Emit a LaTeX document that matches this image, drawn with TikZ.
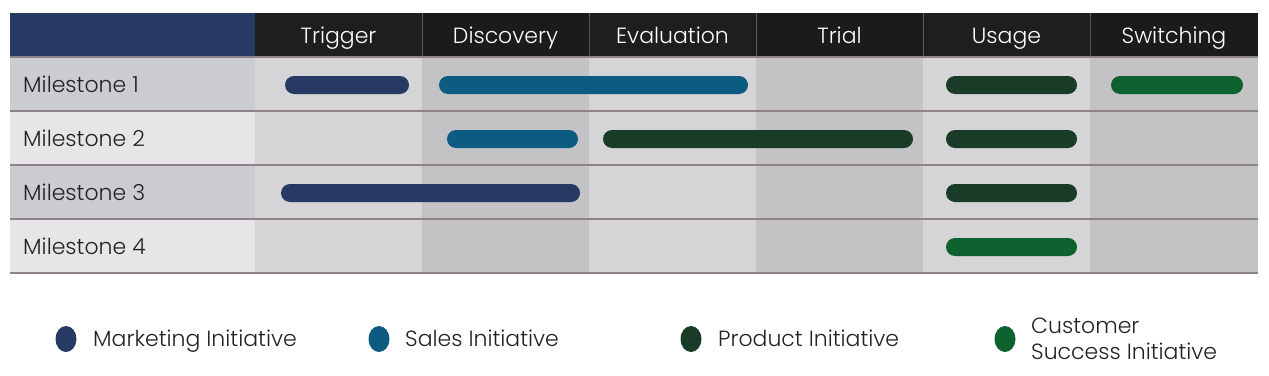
\documentclass[tikz,border=0pt]{standalone}
\usepackage{fontspec}
\setmainfont{Poppins Light}
\usetikzlibrary{shapes.geometric}
\definecolor{hdrnavy}{HTML}{263A63}
\definecolor{hdrA}{HTML}{201E1D}
\definecolor{hdrB}{HTML}{1C1A1A}
\definecolor{lblA}{HTML}{CBCCD0}
\definecolor{lblB}{HTML}{E6E6E8}
\definecolor{colL}{HTML}{D5D5D7}
\definecolor{colD}{HTML}{C3C3C5}
\definecolor{sepc}{HTML}{8F8289}
\definecolor{mkt}{HTML}{263A64}
\definecolor{sal}{HTML}{0B5C80}
\definecolor{prd}{HTML}{1A3B27}
\definecolor{cus}{HTML}{0D622F}
\definecolor{txt}{HTML}{222222}
\begin{document}
\begin{tikzpicture}[x=1pt,y=-1pt,
  cell/.style={anchor=north west, inner sep=0, outer sep=0, minimum width=167pt, minimum height=54pt},
  hcell/.style={cell, minimum height=44pt},
  htxt/.style={anchor=base, inner sep=0, text=white, font=\fontsize{22}{26}\selectfont},
  lcell/.style={anchor=north west, inner sep=0, outer sep=0, minimum width=245pt, minimum height=54pt},
  lbl/.style={anchor=base west, inner sep=0, text=txt, font=\fontsize{22}{26}\selectfont},
  bar/.style={anchor=west, inner sep=0, outer sep=0, minimum height=18pt, rounded corners=9pt},
  dot/.style={ellipse, inner sep=0, minimum width=21pt, minimum height=26pt},
  leg/.style={anchor=base west, inner sep=0, text=txt, align=left, font=\fontsize{22}{26}\selectfont},
  sepline/.style={draw=sepc, line width=1.5pt}
]
\useasboundingbox (0,0) rectangle (1269,375);
% header
\node[lcell, minimum height=44pt, fill=hdrnavy] (h0) at (10,13) {};
\node[hcell, fill=hdrA] (h1) at (255,13) {};
\node[hcell, fill=hdrB] (h2) at (422,13) {};
\node[hcell, fill=hdrA] (h3) at (589,13) {};
\node[hcell, fill=hdrB] (h4) at (756,13) {};
\node[hcell, fill=hdrA] (h5) at (923,13) {};
\node[hcell, fill=hdrB, minimum width=168pt] (h6) at (1090,13) {};
\node[htxt] (ht1) at (338.5,43) {Trigger};
\node[htxt] (ht2) at (505.5,43) {Discovery};
\node[htxt] (ht3) at (672.5,43) {Evaluation};
\node[htxt] (ht4) at (839.5,43) {Trial};
\node[htxt] (ht5) at (1006.5,43) {Usage};
\node[htxt] (ht6) at (1174,43) {Switching};
\foreach \x in {422,589,756,923,1090}{\draw[draw=gray!70!black, line width=0.8pt] (\x,13) -- (\x,57);}
% rows
\foreach \r/\y/\c in {1/57/lblA,2/111/lblB,3/165/lblA,4/219/lblB}{
  \node[lcell, fill=\c] (l\r) at (10,\y) {};
  \node[cell, fill=colL] (c\r a) at (255,\y) {};
  \node[cell, fill=colD] (c\r b) at (422,\y) {};
  \node[cell, fill=colL] (c\r c) at (589,\y) {};
  \node[cell, fill=colD] (c\r d) at (756,\y) {};
  \node[cell, fill=colL] (c\r e) at (923,\y) {};
  \node[cell, fill=colD, minimum width=168pt] (c\r f) at (1090,\y) {};
}
\node[lbl] (m1) at (23,92.5) {Milestone 1};
\node[lbl] (m2) at (23,146.5) {Milestone 2};
\node[lbl] (m3) at (23,200.5) {Milestone 3};
\node[lbl] (m4) at (23,254.5) {Milestone 4};
\foreach \y in {57,111,165,219,273}{\draw[sepline] (10,\y) -- (1258,\y);}
% bars
\node[bar, fill=mkt, minimum width=124pt] (b11) at (285,85) {};
\node[bar, fill=sal, minimum width=309pt] (b12) at (439,85) {};
\node[bar, fill=prd, minimum width=131pt] (b13) at (946,85) {};
\node[bar, fill=cus, minimum width=132pt] (b14) at (1111,85) {};
\node[bar, fill=sal, minimum width=131pt] (b21) at (447,139) {};
\node[bar, fill=prd, minimum width=310pt] (b22) at (603,139) {};
\node[bar, fill=prd, minimum width=131pt] (b23) at (946,139) {};
\node[bar, fill=mkt, minimum width=299pt] (b31) at (281,193) {};
\node[bar, fill=prd, minimum width=131pt] (b32) at (946,193) {};
\node[bar, fill=cus, minimum width=131pt] (b41) at (946,247) {};
% legend
\node[dot, fill=mkt] (d1) at (66,339) {};
\node[leg] (t1) at (93,346) {Marketing Initiative};
\node[dot, fill=sal] (d2) at (379,339) {};
\node[leg] (t2) at (405,346) {Sales Initiative};
\node[dot, fill=prd] (d3) at (691,339) {};
\node[leg] (t3) at (718,346) {Product Initiative};
\node[dot, fill=cus] (d4) at (1005,339) {};
\node[leg] (t4a) at (1031,333) {Customer};
\node[leg] (t4b) at (1031,359) {Success Initiative};
\end{tikzpicture}
\end{document}
